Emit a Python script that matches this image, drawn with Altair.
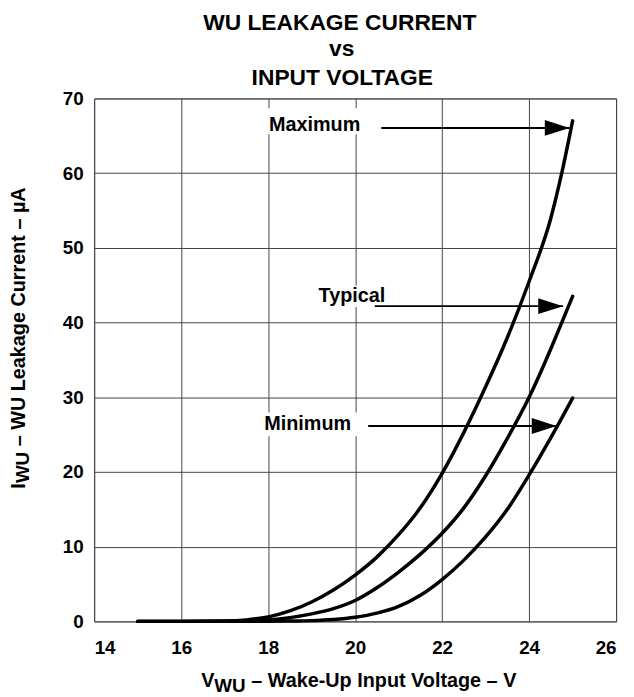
import altair as alt
import pandas as pd

FONT = "Liberation Sans"

# ---- data ----
volts = [15, 16, 17, 17.5, 18, 18.5, 19, 19.5, 20, 20.5, 21, 21.5, 22, 22.5, 23, 23.5, 24, 24.5, 24.75, 25]
i_max = [0, 0, 0.05, 0.2, 0.6, 1.4, 2.6, 4.2, 6.2, 8.6, 11.6, 15.2, 19.8, 25.3, 31.4, 38.0, 45.5, 54.0, 60.0, 67.0]
i_typ = [0, 0, 0.02, 0.08, 0.2, 0.5, 1.0, 1.7, 2.8, 4.5, 6.6, 9.0, 11.8, 15.2, 19.5, 24.5, 30.0, 36.5, 40.0, 43.5]
i_min = [0, 0, 0, 0.01, 0.02, 0.05, 0.1, 0.25, 0.55, 1.1, 2.0, 3.5, 5.6, 8.2, 11.3, 15.0, 19.6, 24.6, 27.2, 29.9]

x_ticks = [14, 16, 18, 20, 22, 24, 26]
y_ticks = [0, 10, 20, 30, 40, 50, 60, 70]

# annotation labels and arrows (in data units)
labels = ["Maximum", "Typical", "Minimum"]
label_v = [18.02, 19.16, 17.91]
label_i = [66.46, 43.52, 26.38]
arrow_from = [20.60, 20.45, 20.30]
arrow_tip = [24.93, 24.78, 24.63]
arrow_i = [66.06, 42.2, 26.16]
box_v1 = [17.9, 19.1, 17.85]
box_v2 = [20.6, 21.06, 20.28]
box_i1 = [65.2, 42.07, 24.79]
box_i2 = [68.7, 44.94, 27.97]

curves = pd.concat([
    pd.DataFrame({"v": volts, "i": i_max, "s": "Maximum"}),
    pd.DataFrame({"v": volts, "i": i_typ, "s": "Typical"}),
    pd.DataFrame({"v": volts, "i": i_min, "s": "Minimum"}),
])
ann = pd.DataFrame({
    "label": labels, "lv": label_v, "li": label_i,
    "a1": arrow_from, "a2": arrow_tip, "ai": arrow_i,
    "b1": box_v1, "b2": box_v2, "c1": box_i1, "c2": box_i2,
})

xs = alt.Scale(domain=[14, 26], nice=False, zero=False)
ys = alt.Scale(domain=[0, 70], nice=False)

lines = alt.Chart(curves).mark_line(
    interpolate="monotone", color="black", strokeWidth=3.5, strokeCap="round", strokeJoin="round"
).encode(
    x=alt.X("v:Q", scale=xs, axis=alt.Axis(values=x_ticks, title=None, labelPadding=17)),
    y=alt.Y("i:Q", scale=ys, axis=alt.Axis(values=y_ticks, title=None, labelPadding=11)),
    detail="s:N",
)

boxes = alt.Chart(ann).mark_rect(fill="white").encode(
    x=alt.X("b1:Q", scale=xs), x2="b2:Q",
    y=alt.Y("c1:Q", scale=ys), y2="c2:Q",
)

ann_text = alt.Chart(ann).mark_text(
    align="left", baseline="middle", font=FONT, fontWeight="bold", fontSize=20, color="black"
).encode(x=alt.X("lv:Q", scale=xs), y=alt.Y("li:Q", scale=ys), text="label:N")

arrows = alt.Chart(ann).mark_rule(color="black", strokeWidth=2).encode(
    x=alt.X("a1:Q", scale=xs), x2="a2:Q", y=alt.Y("ai:Q", scale=ys)
)

heads = alt.Chart(ann).mark_point(
    shape="M -1 -0.32 L 0 0 L -1 0.32 Z", filled=True, fill="black", color="black",
    size=2500, opacity=1, strokeWidth=0
).encode(x=alt.X("a2:Q", scale=xs), y=alt.Y("ai:Q", scale=ys))


def txt(s, x, y, size, align="left", angle=0):
    return alt.Chart(pd.DataFrame({"t": [s]})).mark_text(
        align=align, baseline="alphabetic", angle=angle, font=FONT,
        fontWeight="bold", fontSize=size, color="black"
    ).encode(x=alt.value(x), y=alt.value(y), text="t:N")


texts = [
    txt("WU LEAKAGE CURRENT", 248, -68.7, 23, "center"),
    txt("vs", 250, -42.7, 23, "center"),
    txt("INPUT VOLTAGE", 250.5, -13.3, 23, "center"),
    # x axis title with subscript
    txt("V", 108, 594, 20),
    txt("WU", 121.3, 599, 19),
    txt("\u2013 Wake-Up Input Voltage \u2013 V", 158.6, 594, 20),
    # y axis title with subscript (rotated)
    txt("I", -70, 394, 20, angle=270),
    txt("WU", -66, 388.4, 19, angle=270),
    txt("\u2013 WU Leakage Current \u2013 \u00b5A", -70, 351.2, 20, angle=270),
]

chart = alt.layer(boxes, ann_text, arrows, heads, lines, *texts).properties(
    width=527, height=528,
    autosize=alt.AutoSizeParams(type="none"),
    padding={"left": 87, "top": 88, "right": 10, "bottom": 71},
).configure_axis(
    grid=True, gridColor="#444", gridWidth=1, gridOpacity=1,
    domain=False, ticks=False, tickSize=0,
    labelFont=FONT, labelFontWeight="bold", labelFontSize=19, labelColor="black",
).configure_view(stroke="#555", strokeWidth=1)

chart.save("out.html", embed_options={"renderer": "svg", "actions": False})
